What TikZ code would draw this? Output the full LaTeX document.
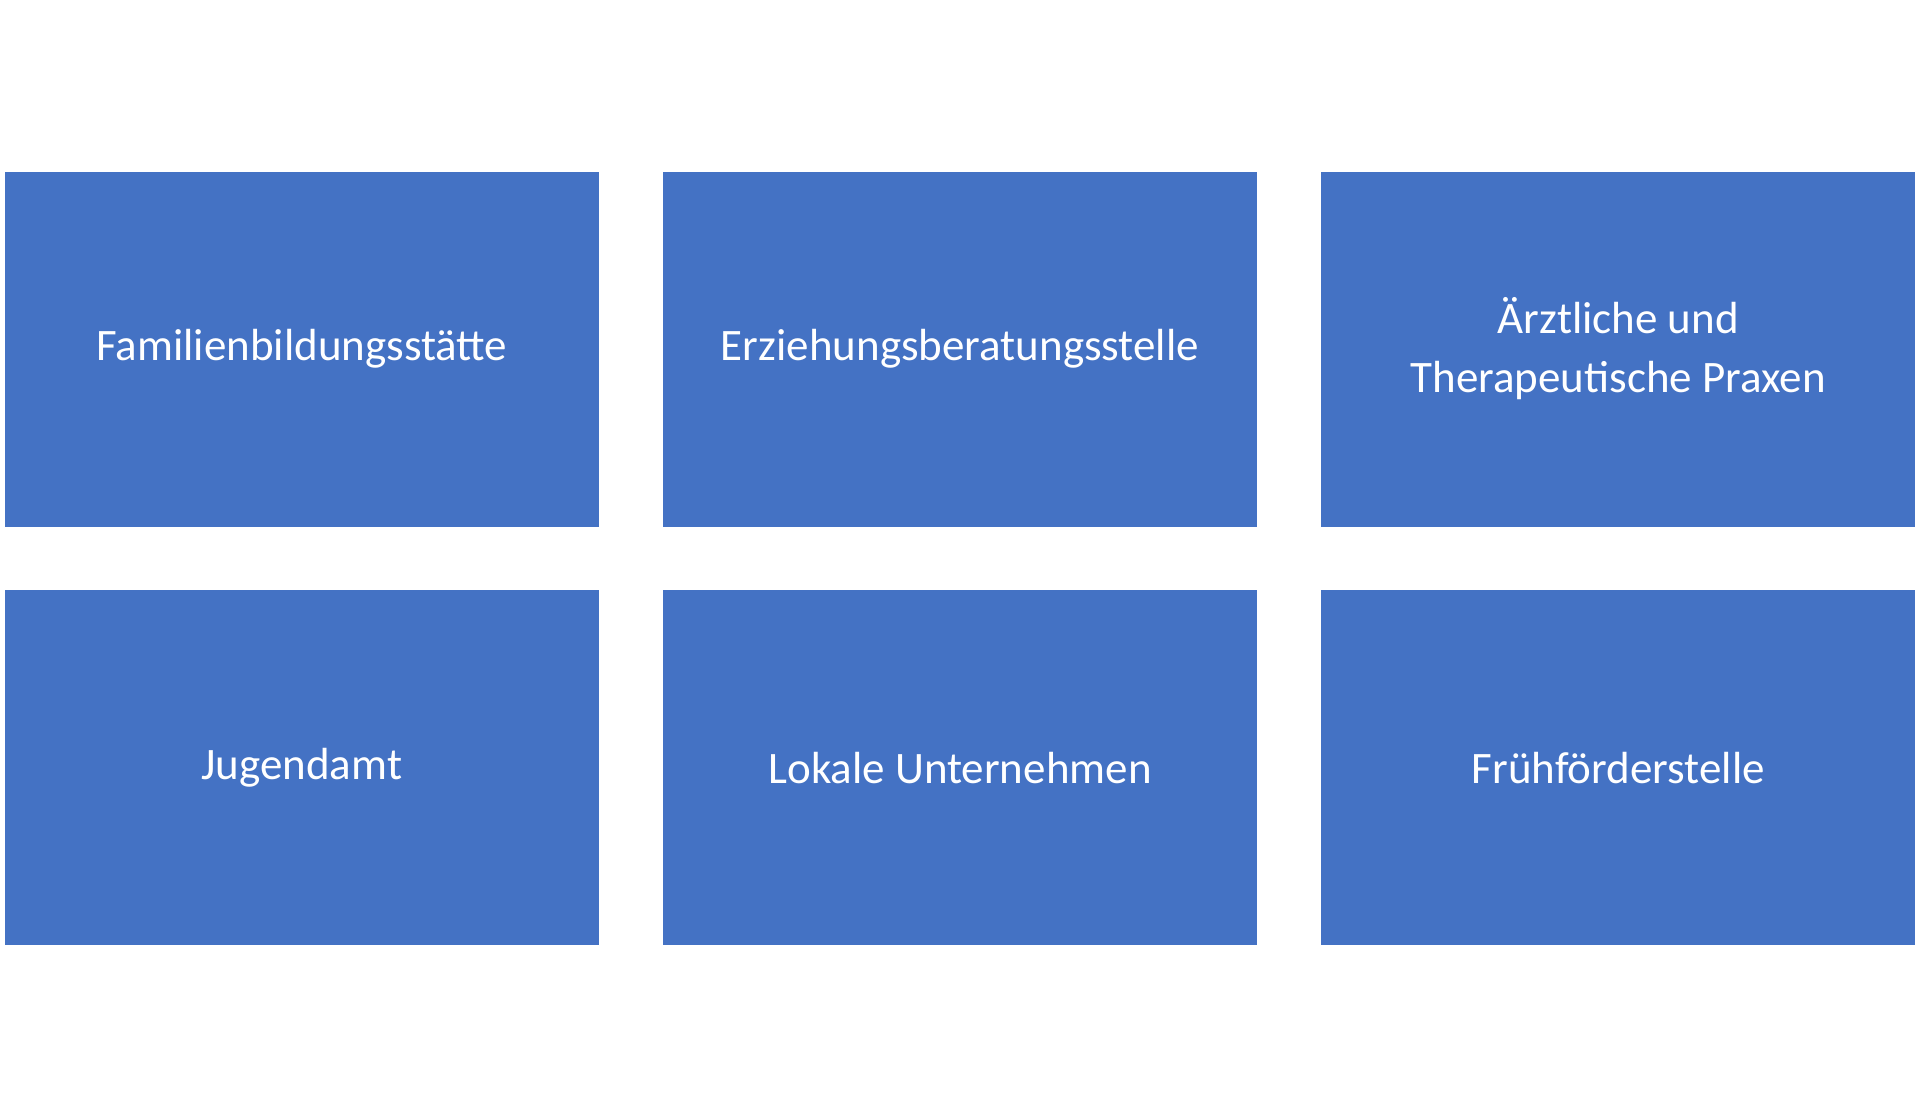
\documentclass[tikz,border=0pt]{standalone}
\usepackage{fontspec}
\setmainfont{Carlito}
\definecolor{boxblue}{HTML}{4472C4}
\begin{document}
\begin{tikzpicture}[x=1pt,y=-1pt,
  box/.style={fill=boxblue,draw=none,minimum width=594pt,minimum height=355pt,inner sep=0pt,
    text=white,align=center,font=\fontsize{45}{59}\selectfont}]
\useasboundingbox (0,0) rectangle (1920,1117);
\node[box] (a) at (301.8,349) {Familienbildungsstätte};
\node[box] (b) at (960,349) {Erziehungsberatungsstelle};
\node[box] (c) at (1618.2,349) {Ärztliche und\\Therapeutische Praxen};
\node[box] (d) at (301.8,767.8) {Jugendamt};
\node[box] (e) at (960,767.8) {Lokale Unternehmen};
\node[box] (f) at (1618.2,767.8) {Frühförderstelle};
\end{tikzpicture}
\end{document}
